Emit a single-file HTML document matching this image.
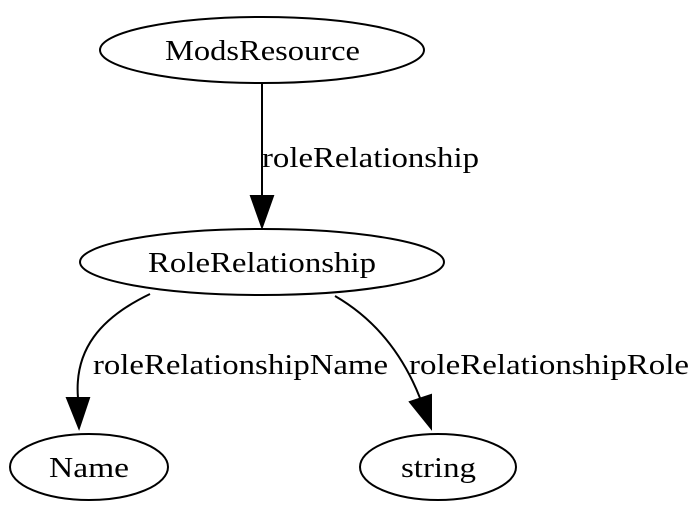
<!DOCTYPE html>
<html><head><style>html,body{margin:0;padding:0;background:#fff}</style></head>
<body>
<svg width="700" height="521" viewBox="0 0 700 521" xmlns="http://www.w3.org/2000/svg" font-family="Liberation Serif, serif" font-size="29">
<g fill="none" stroke="#000" stroke-width="2">
<ellipse cx="262" cy="50" rx="162" ry="33"/>
<ellipse cx="262" cy="262" rx="182" ry="33"/>
<ellipse cx="89" cy="467" rx="79" ry="33"/>
<ellipse cx="438" cy="467" rx="78" ry="33"/>
<path d="M262,83 L262,198"/>
<path d="M150,294 C100,318 74,350 78,398"/>
<path d="M335,296 C380,322 405,360 420,398"/>
</g>
<g fill="#000" stroke="#000" stroke-width="2">
<polygon points="251,196 273,196 262,227"/>
<polygon points="67,398 89,398 79,428"/>
<polygon points="410,402 431,395 431,428"/>
</g>
<g lengthAdjust="spacingAndGlyphs">
<text x="165" y="60" textLength="195" lengthAdjust="spacingAndGlyphs">ModsResource</text>
<text x="148" y="272" textLength="228" lengthAdjust="spacingAndGlyphs">RoleRelationship</text>
<text x="49" y="477" textLength="80" lengthAdjust="spacingAndGlyphs">Name</text>
<text x="401" y="477" textLength="75" lengthAdjust="spacingAndGlyphs">string</text>
<text x="262" y="167" textLength="217" lengthAdjust="spacingAndGlyphs">roleRelationship</text>
<text x="93" y="374" textLength="295" lengthAdjust="spacingAndGlyphs">roleRelationshipName</text>
<text x="409" y="374" textLength="280" lengthAdjust="spacingAndGlyphs">roleRelationshipRole</text>
</g>
</svg>
</body></html>
